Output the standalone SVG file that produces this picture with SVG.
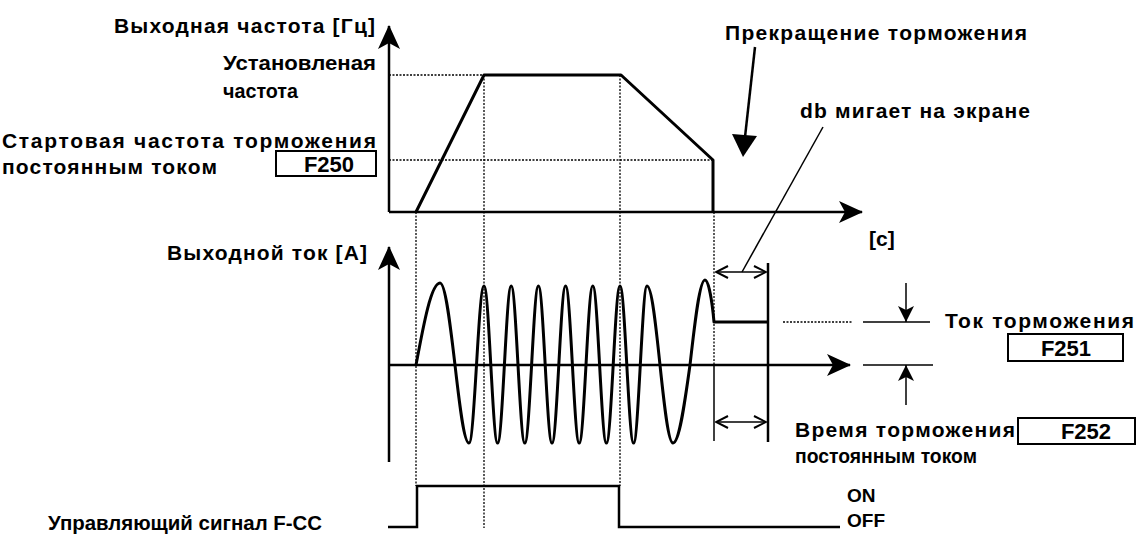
<svg xmlns="http://www.w3.org/2000/svg" width="1138" height="535" viewBox="0 0 1138 535">
<style>
.t{font-family:"Liberation Sans",Arial,sans-serif;font-size:21px;font-weight:bold;fill:#000}
.f{font-family:"Liberation Sans",Arial,sans-serif;font-size:22px;font-weight:bold;fill:#000}
.n{font-family:"Liberation Sans",Arial,sans-serif;font-size:19px;font-weight:bold;fill:#000}
.ax{stroke:#000;stroke-width:2.5;fill:none}
.dot{stroke:#000;stroke-width:1.3;stroke-dasharray:2 1.5;fill:none}
.cur{stroke:#000;stroke-width:3;fill:none;stroke-linejoin:round}
.thin{stroke:#000;stroke-width:1.5;fill:none}
.box{stroke:#000;stroke-width:2;fill:#fff}
</style>
<defs>
<marker id="axarr" markerUnits="userSpaceOnUse" viewBox="0 0 24 22" markerWidth="24" markerHeight="22" refX="23" refY="11" orient="auto">
<path d="M0,0 L24,11 L0,22 L6,11 Z" fill="#000"/>
</marker>
<marker id="chev" markerUnits="userSpaceOnUse" viewBox="0 0 14 14" markerWidth="14" markerHeight="14" refX="13" refY="7" orient="auto-start-reverse">
<path d="M1,1 L13,7 L1,13" fill="none" stroke="#000" stroke-width="2"/>
</marker>
<marker id="small" markerUnits="userSpaceOnUse" viewBox="0 0 16 16" markerWidth="16" markerHeight="16" refX="16" refY="8" orient="auto">
<path d="M0,0 L16,8 L0,16 L4,8 Z" fill="#000"/>
</marker>
</defs>

<g id="guides">
<line class="dot" x1="389" y1="75" x2="484" y2="75"/>
<line class="dot" x1="389" y1="160" x2="713" y2="160"/>
<line class="dot" x1="416" y1="212" x2="416" y2="486"/>
<line class="dot" x1="484" y1="75" x2="484" y2="528"/>
<line class="dot" x1="620" y1="75" x2="620" y2="486"/>
<line class="dot" x1="714" y1="212" x2="714" y2="365"/>
<line class="dot" x1="783" y1="322" x2="852" y2="322"/>
</g>

<g id="frequency-chart">
<line class="ax" x1="389" y1="212" x2="389" y2="26" marker-end="url(#axarr)"/>
<line class="ax" x1="389" y1="212" x2="862" y2="212" marker-end="url(#axarr)"/>
<path class="cur" d="M416,212 L484,75 L621,75 L713,160 L713,212"/>
</g>

<g id="current-chart">
<line class="ax" x1="389" y1="462" x2="389" y2="247" marker-end="url(#axarr)"/>
<line class="ax" x1="389" y1="365" x2="850" y2="365" marker-end="url(#axarr)"/>
<path class="cur" d="M416,365 C423.8,323 431.3,283 440,283 C445.4,283 450.1,323 455,365 C459.6,404.9 463.9,443 469,443 C471.7,443 474.1,404.9 476.5,365 C478.9,324.6 481.3,286 484,286 C486.5,286 488.6,324.6 490.8,365 C493,404.9 495.1,443 497.6,443 C500.1,443 502.2,404.9 504.4,365 C506.6,324.6 508.7,286 511.2,286 C513.7,286 515.8,324.6 518,365 C520.2,404.9 522.3,443 524.8,443 C527.3,443 529.4,404.9 531.6,365 C533.8,324.6 535.9,286 538.4,286 C540.9,286 543,324.6 545.2,365 C547.4,404.9 549.5,443 552,443 C554.5,443 556.6,404.9 558.8,365 C561,324.6 563.1,286 565.6,286 C568.1,286 570.2,324.6 572.4,365 C574.6,404.9 576.7,443 579.2,443 C581.7,443 583.8,404.9 586,365 C588.2,324.6 590.3,286 592.8,286 C595.3,286 597.4,324.6 599.6,365 C601.8,404.9 603.9,443 606.4,443 C608.9,443 611,404.9 613.2,365 C615.4,324.6 617.5,286 620,286 C622.5,286 624.6,324.6 626.8,365 C629,404.9 631.1,443 633.6,443 C636,443 638.1,404.9 640.3,365 C642.5,324.6 644.6,286 647,286 C651.7,286 655.8,324.6 660,365 C664.2,404.9 668.3,443 673,443 C679.2,443 684.5,404.9 690,365 C694.9,321.5 699.6,280 705,280 C708.5,280 712,300 714,322 L768,322"/>
<line class="thin" x1="714" y1="365" x2="714" y2="441"/>
<line class="ax" x1="768" y1="263" x2="768" y2="442"/>
</g>

<g id="signal-chart">
<path class="ax" d="M388,527 L417,527 L417,486 L619,486 L619,527 L840,527"/>
</g>

<g id="connectors">
<line class="thin" x1="716" y1="272" x2="766" y2="272" marker-start="url(#chev)" marker-end="url(#chev)"/>
<line class="thin" x1="716" y1="422" x2="766" y2="422" marker-start="url(#chev)" marker-end="url(#chev)"/>
<line class="thin" x1="823" y1="127" x2="742" y2="272"/>
<line class="ax" x1="755" y1="47" x2="745" y2="137"/>
<polygon points="732,134 757,136 743,157" fill="#000"/>
<line class="thin" x1="863" y1="322" x2="930" y2="322"/>
<line class="thin" x1="863" y1="365" x2="933" y2="365"/>
<line class="thin" x1="906" y1="283" x2="906" y2="322" marker-end="url(#small)"/>
<line class="thin" x1="906" y1="405" x2="906" y2="365" marker-end="url(#small)"/>
</g>

<g id="label-freq"><text class="t" x="114" y="33" textLength="261" lengthAdjust="spacing">Выходная частота [Гц]</text></g>
<g id="label-setfreq">
<text class="t" x="223" y="70" textLength="153" lengthAdjust="spacingAndGlyphs">Установленая</text>
<text class="t" x="223" y="98" textLength="75" lengthAdjust="spacingAndGlyphs">частота</text>
</g>
<g id="label-startfreq">
<text class="t" x="2" y="148" textLength="374" lengthAdjust="spacing">Стартовая частота торможения</text>
<text class="t" x="2" y="174" textLength="215" lengthAdjust="spacing">постоянным током</text>
</g>
<g id="box-F250">
<rect class="box" x="276" y="151" width="100" height="25"/>
<text class="f" x="329" y="172" text-anchor="middle">F250</text>
</g>
<g id="label-stop"><text class="t" x="725" y="40" textLength="302" lengthAdjust="spacing">Прекращение торможения</text></g>
<g id="label-db"><text class="t" x="800" y="118" textLength="230" lengthAdjust="spacing">db мигает на экране</text></g>
<g id="label-time-unit"><text class="t" x="869" y="246">[c]</text></g>
<g id="label-current"><text class="t" x="167" y="260" textLength="200" lengthAdjust="spacing">Выходной ток [A]</text></g>
<g id="label-brake-current"><text class="t" x="945" y="328" textLength="189" lengthAdjust="spacing">Ток торможения</text></g>
<g id="box-F251">
<rect class="box" x="1008" y="334" width="115" height="27"/>
<text class="f" x="1066" y="356" text-anchor="middle">F251</text>
</g>
<g id="label-brake-time">
<text class="t" x="795" y="437" textLength="220" lengthAdjust="spacing">Время торможения</text>
<text class="t" x="795" y="463" textLength="182" lengthAdjust="spacingAndGlyphs">постоянным током</text>
</g>
<g id="box-F252">
<rect class="box" x="1018" y="418" width="117" height="26"/>
<text class="f" x="1086" y="439" text-anchor="middle">F252</text>
</g>
<g id="label-on"><text class="n" x="847" y="502">ON</text></g>
<g id="label-off"><text class="n" x="847" y="527">OFF</text></g>
<g id="label-signal"><text class="t" x="48" y="530" textLength="274" lengthAdjust="spacingAndGlyphs">Управляющий сигнал F-CC</text></g>
</svg>
